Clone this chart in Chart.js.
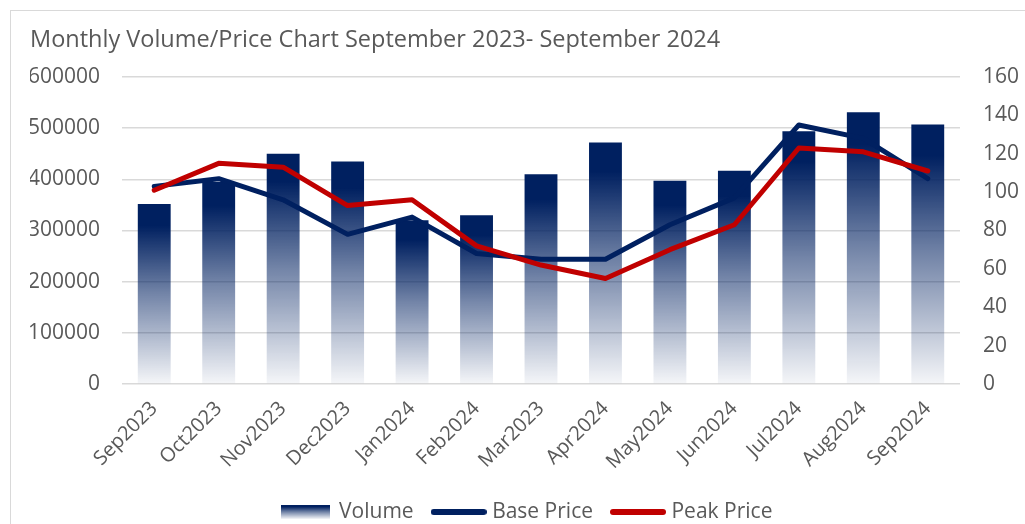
<!DOCTYPE html>
<html>
<head>
<meta charset="utf-8">
<script src="https://cdn.jsdelivr.net/npm/chart.js@4.4.1/dist/chart.umd.min.js"></script>
<style>
  html, body { margin: 0; padding: 0; background: #fff; }
  #wrap { position: relative; width: 1025px; height: 524px; overflow: hidden; }
  #frame { position: absolute; left: 10px; top: 10px; width: 1100px; height: 600px; border: 1px solid #d9d9d9; box-sizing: border-box; }
  canvas { position: absolute; left: 0; top: 0; }
</style>
</head>
<body>
<div id="wrap">
  <div id="frame"></div>
  <canvas id="c" width="1025" height="524"></canvas>
</div>
<script>
const categories = ['Sep2023','Oct2023','Nov2023','Dec2023','Jan2024','Feb2024','Mar2023','Apr2024','May2024','Jun2024','Jul2024','Aug2024','Sep2024'];
const volume     = [352000, 395000, 450000, 435000, 320000, 330000, 410000, 472000, 397000, 417000, 494000, 531000, 507000];
const basePrice  = [103, 107, 96, 78, 87, 68, 65, 65, 83, 97, 135, 128, 107];
const peakPrice  = [101, 115, 113, 93, 96, 72, 62, 55, 70, 83, 123, 121, 111];
const leftTicks  = [0, 100000, 200000, 300000, 400000, 500000, 600000];
const rightTicks = [0, 20, 40, 60, 80, 100, 120, 140, 160];

const NAVY = '#002060';
const RED = '#C00000';
const TXT = '#595959';
const FONT = "'Open Sans', sans-serif";

function fillGradient(g) {
  g.addColorStop(0, 'rgba(0,32,96,1)');
  g.addColorStop(0.12, 'rgba(0,32,96,1)');
  g.addColorStop(0.5, 'rgba(0,32,96,0.55)');
  g.addColorStop(1, 'rgba(0,32,96,0.04)');
  return g;
}

function swatchVolume() {
  const cv = document.createElement('canvas');
  cv.width = 49; cv.height = 14;
  const x = cv.getContext('2d');
  x.fillStyle = fillGradient(x.createLinearGradient(0, 0, 0, 14));
  x.fillRect(0, 0, 49, 14);
  return cv;
}
function swatchLine(color) {
  const cv = document.createElement('canvas');
  cv.width = 56; cv.height = 8;
  const x = cv.getContext('2d');
  x.strokeStyle = color; x.lineWidth = 6; x.lineCap = 'round';
  x.beginPath(); x.moveTo(3, 4); x.lineTo(53, 4); x.stroke();
  return cv;
}
const swatches = [swatchVolume(), swatchLine(NAVY), swatchLine(RED)];

function barGradient(ctx) {
  const chart = ctx.chart;
  const area = chart.chartArea;
  if (!area || ctx.type !== 'data') return NAVY;
  const ys = chart.scales.y;
  const top = ys.getPixelForValue(ctx.raw);
  const bottom = ys.getPixelForValue(0);
  return fillGradient(chart.ctx.createLinearGradient(0, top, 0, bottom));
}

const legendShift = {
  id: 'legendShift',
  afterLayout(chart) {
    const lg = chart.legend;
    if (lg) { lg.top += 8.5; lg.bottom += 8.5; }
  }
};

new Chart(document.getElementById('c'), {
  plugins: [legendShift],
  data: {
    labels: categories,
    datasets: [
      { type: 'line', label: 'Peak Price', data: peakPrice, yAxisID: 'y1', borderColor: RED, backgroundColor: RED,
        borderWidth: 5, pointRadius: 0, tension: 0, order: 0, borderCapStyle: 'round', borderJoinStyle: 'round' },
      { type: 'line', label: 'Base Price', data: basePrice, yAxisID: 'y1', borderColor: NAVY, backgroundColor: NAVY,
        borderWidth: 5, pointRadius: 0, tension: 0, order: 1, borderCapStyle: 'round', borderJoinStyle: 'round' },
      { type: 'bar', label: 'Volume', data: volume, yAxisID: 'y', backgroundColor: barGradient,
        barPercentage: 0.51, categoryPercentage: 1.0, order: 2 }
    ]
  },
  options: {
    responsive: false,
    animation: false,
    layout: { padding: { left: 30, right: 0, top: 26, bottom: 0 } },
    plugins: {
      tooltip: { enabled: false },
      title: {
        display: true, text: 'Monthly Volume/Price Chart September 2023- September 2024',
        align: 'start', color: TXT, font: { family: FONT, size: 23.5, weight: 'normal', lineHeight: 1.2 },
        padding: { top: 0, bottom: 22.8 }
      },
      legend: {
        position: 'bottom',
        labels: {
          color: TXT, font: { family: FONT, size: 21 },
          usePointStyle: true, pointStyleWidth: 46, padding: 22,
          generateLabels: (chart) => {
            const order = ['Volume', 'Base Price', 'Peak Price'];
            return order.map((name, i) => {
              const idx = chart.data.datasets.findIndex(d => d.label === name);
              return { text: name, pointStyle: swatches[i], datasetIndex: idx, fontColor: TXT,
                       hidden: false, lineWidth: 0, strokeStyle: 'transparent', fillStyle: 'transparent' };
            });
          }
        }
      }
    },
    scales: {
      x: {
        grid: { display: false },
        border: { display: false },
        afterFit: (s) => { s.height = 87; },
        ticks: { color: TXT, font: { family: FONT, size: 20 }, minRotation: 45, maxRotation: 45, padding: 5 }
      },
      y: {
        position: 'left', min: 0, max: 600000,
        afterBuildTicks: (s) => { s.ticks = leftTicks.map(v => ({ value: v })); },
        afterFit: (s) => { s.width = 92; },
        grid: { color: '#d9d9d9', lineWidth: 1.5, drawTicks: false },
        border: { display: false },
        ticks: { color: TXT, font: { family: FONT, size: 21 }, padding: 22, callback: (v) => String(v) }
      },
      y1: {
        position: 'right', min: 0, max: 160,
        afterBuildTicks: (s) => { s.ticks = rightTicks.map(v => ({ value: v })); },
        afterFit: (s) => { s.width = 65; },
        grid: { display: false, drawTicks: false },
        border: { display: false },
        ticks: { color: TXT, font: { family: FONT, size: 21 }, padding: 23, callback: (v) => String(v) }
      }
    }
  }
});
</script>
</body>
</html>
